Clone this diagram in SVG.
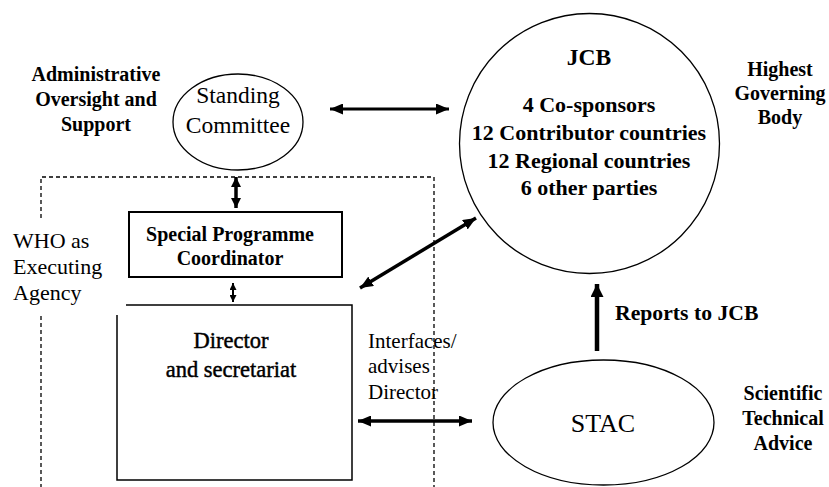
<svg xmlns="http://www.w3.org/2000/svg" width="829" height="487" viewBox="0 0 829 487">
<style>
text{font-family:'Liberation Serif','Times New Roman',Times,'Noto Serif','DejaVu Serif',serif;fill:#000}
.b{font-weight:bold}
.semi{stroke:#000;stroke-width:0.45}
.shape{fill:none;stroke:#000}
.dash{fill:none;stroke:#000;stroke-width:1.3;stroke-dasharray:4 3}
.arr{stroke:#000;fill:none}
</style>
<defs>
<marker id="ah" markerUnits="userSpaceOnUse" markerWidth="13" markerHeight="11" refX="13" refY="5.5" orient="auto-start-reverse"><path d="M0,0 L13,5.5 L0,11 z" fill="#000"/></marker>
<marker id="ahs" markerUnits="userSpaceOnUse" markerWidth="7" markerHeight="7" refX="7" refY="3.5" orient="auto-start-reverse"><path d="M0,0 L7,3.5 L0,7 z" fill="#000"/></marker>
<marker id="ahm" markerUnits="userSpaceOnUse" markerWidth="10" markerHeight="10" refX="10" refY="5" orient="auto-start-reverse"><path d="M0,0 L10,5 L0,10 z" fill="#000"/></marker>
<marker id="ahl" markerUnits="userSpaceOnUse" markerWidth="13" markerHeight="13" refX="13" refY="6.5" orient="auto"><path d="M0,0 L13,6.5 L0,13 z" fill="#000"/></marker>
</defs>

<g id="who-boundary">
<path class="dash" d="M41,218 V177 H434 V487"/>
<path class="dash" d="M41,316 V487"/>
<text font-size="22" x="13" y="248" fill="#1a1a1a">WHO as</text>
<text font-size="22" x="13" y="274" fill="#1a1a1a">Executing</text>
<text font-size="22" x="13" y="300" fill="#1a1a1a">Agency</text>
</g>

<g id="standing-committee">
<ellipse class="shape" stroke-width="1.3" cx="238" cy="122" rx="65" ry="48"/>
<text font-size="23.5" text-anchor="middle" x="238" y="103">Standing</text>
<text font-size="23.5" text-anchor="middle" x="238" y="133">Committee</text>
</g>
<g id="admin-label">
<text class="b" font-size="20" text-anchor="middle" x="96" y="81">Administrative</text>
<text class="b" font-size="20" text-anchor="middle" x="96" y="106">Oversight and</text>
<text class="b" font-size="20" text-anchor="middle" x="96" y="131">Support</text>
</g>

<g id="jcb">
<circle class="shape" stroke-width="1.3" cx="589.5" cy="143.5" r="130"/>
<text class="b" font-size="23.5" text-anchor="middle" x="589" y="65">JCB</text>
<text class="b" font-size="22" text-anchor="middle" x="589" y="112">4 Co-sponsors</text>
<text class="b" font-size="22" text-anchor="middle" x="589" y="140">12 Contributor countries</text>
<text class="b" font-size="22" text-anchor="middle" x="589" y="168">12 Regional countries</text>
<text class="b" font-size="22" text-anchor="middle" x="589" y="195">6 other parties</text>
</g>
<g id="highest-label">
<text class="b" font-size="20" text-anchor="middle" x="780" y="76">Highest</text>
<text class="b" font-size="20" text-anchor="middle" x="780" y="100">Governing</text>
<text class="b" font-size="20" text-anchor="middle" x="780" y="124">Body</text>
</g>

<g id="spc">
<rect class="shape" stroke-width="2" x="129" y="212" width="213" height="65"/>
<text class="b" font-size="20" text-anchor="middle" x="230" y="241">Special Programme</text>
<text class="b" font-size="20" text-anchor="middle" x="230" y="265">Coordinator</text>
</g>

<g id="director">
<path class="shape" stroke-width="1.5" d="M126,305 H352 V480 H117 V315"/>
<text class="semi" font-size="22.5" text-anchor="middle" x="231" y="348">Director</text>
<text class="semi" font-size="22.5" text-anchor="middle" x="231" y="377">and secretariat</text>
</g>

<g id="stac">
<ellipse class="shape" stroke-width="1.3" cx="603.5" cy="422.5" rx="110.5" ry="62.5"/>
<text font-size="26" text-anchor="middle" x="603" y="432">STAC</text>
</g>
<g id="stac-label">
<text class="b" font-size="20" text-anchor="middle" x="783" y="400">Scientific</text>
<text class="b" font-size="20" text-anchor="middle" x="783" y="425">Technical</text>
<text class="b" font-size="20" text-anchor="middle" x="783" y="450">Advice</text>
</g>

<g id="connectors">
<line class="arr" stroke-width="3" x1="330" y1="109" x2="449" y2="109" marker-start="url(#ah)" marker-end="url(#ah)"/>
<line class="arr" stroke-width="3.5" x1="236" y1="177" x2="236" y2="208" marker-start="url(#ahm)" marker-end="url(#ahm)"/>
<line class="arr" stroke-width="2" x1="233" y1="283" x2="233" y2="302" marker-start="url(#ahs)" marker-end="url(#ahs)"/>
<line class="arr" stroke-width="3.5" x1="360" y1="288" x2="476" y2="218" marker-start="url(#ah)" marker-end="url(#ah)"/>
<line class="arr" stroke-width="3.5" x1="358" y1="421" x2="472" y2="421" marker-start="url(#ah)" marker-end="url(#ah)"/>
<line class="arr" stroke-width="4.5" x1="597" y1="351" x2="597" y2="284" marker-end="url(#ahl)"/>
<text font-size="21" x="368" y="348" fill="#222">Interfaces/</text>
<text font-size="21" x="368" y="373" fill="#222">advises</text>
<text font-size="21" x="368" y="399" fill="#222">Director</text>
<text class="b" font-size="21.7" x="615" y="320">Reports to JCB</text>
</g>
</svg>
